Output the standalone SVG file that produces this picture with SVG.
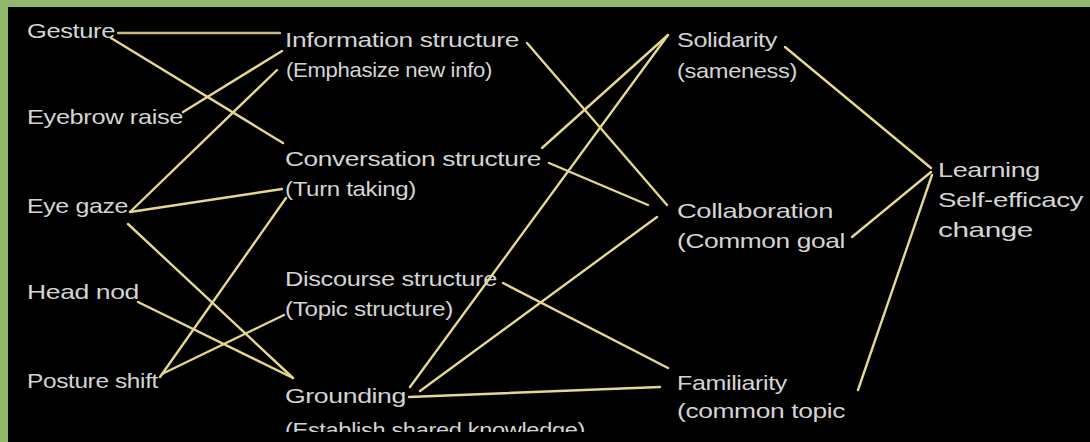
<svg xmlns="http://www.w3.org/2000/svg" width="1090" height="442" viewBox="0 0 1090 442">
<style>
.bg{fill:#000}
.fr{fill:#8fb86c}
text{font-family:"Liberation Sans",Arial,sans-serif;font-size:21px;fill:#d4d4d4;letter-spacing:-0.3px}
.c line{stroke:#e4d78e;stroke-width:2.4;stroke-linecap:round}
</style>
<defs>
<clipPath id="clipb"><rect x="0" y="0" width="1090" height="432"/></clipPath>
</defs>
<rect class="bg" x="0" y="0" width="1090" height="442"/>
<rect class="fr" x="0" y="0" width="1090" height="7"/>
<rect class="fr" x="0" y="0" width="8" height="442"/>
<g class="c" id="connectors">
<line x1="118" y1="33" x2="280" y2="33" style="stroke:#c4b984"/>
<line x1="111" y1="38" x2="283" y2="143"/>
<line x1="183" y1="112" x2="282" y2="51"/>
<line x1="130" y1="212" x2="277" y2="70"/>
<line x1="130" y1="212" x2="282" y2="189"/>
<line x1="128" y1="224" x2="293" y2="378"/>
<line x1="138" y1="302" x2="293" y2="378"/>
<line x1="160" y1="377" x2="286" y2="198"/>
<line x1="162" y1="374" x2="284" y2="315"/>
<line x1="527" y1="43" x2="667" y2="205"/>
<line x1="542" y1="148" x2="668" y2="35"/>
<line x1="410" y1="387" x2="668" y2="35"/>
<line x1="549" y1="163" x2="648" y2="205"/>
<line x1="420" y1="391" x2="657" y2="217"/>
<line x1="503" y1="283" x2="668" y2="368"/>
<line x1="409" y1="397" x2="660" y2="387"/>
<line x1="785" y1="47" x2="931" y2="168"/>
<line x1="852" y1="237" x2="931" y2="172"/>
<line x1="858" y1="390" x2="932" y2="175"/>
</g>
<g id="gesture"><text x="27" y="38" textLength="88" lengthAdjust="spacingAndGlyphs">Gesture</text></g>
<g id="eyebrow"><text x="27" y="124" textLength="156" lengthAdjust="spacingAndGlyphs">Eyebrow raise</text></g>
<g id="eyegaze"><text x="27" y="213" textLength="101" lengthAdjust="spacingAndGlyphs">Eye gaze</text></g>
<g id="headnod"><text x="27" y="299" textLength="112" lengthAdjust="spacingAndGlyphs">Head nod</text></g>
<g id="posture"><text x="27" y="388" textLength="131" lengthAdjust="spacingAndGlyphs">Posture shift</text></g>
<g id="information"><text x="285" y="47" textLength="234" lengthAdjust="spacingAndGlyphs">Information structure</text><text x="286" y="77" textLength="206" lengthAdjust="spacingAndGlyphs">(Emphasize new info)</text></g>
<g id="conversation"><text x="285" y="166" textLength="256" lengthAdjust="spacingAndGlyphs">Conversation structure</text><text x="285" y="196" textLength="131" lengthAdjust="spacingAndGlyphs">(Turn taking)</text></g>
<g id="discourse"><text x="285" y="286" textLength="212" lengthAdjust="spacingAndGlyphs">Discourse structure</text><text x="285" y="316" textLength="168" lengthAdjust="spacingAndGlyphs">(Topic structure)</text></g>
<g id="grounding"><text x="285" y="403" textLength="121" lengthAdjust="spacingAndGlyphs">Grounding</text><text x="285" y="437" clip-path="url(#clipb)" textLength="300" lengthAdjust="spacingAndGlyphs">(Establish shared knowledge)</text></g>
<g id="solidarity"><text x="677" y="47" textLength="100" lengthAdjust="spacingAndGlyphs">Solidarity</text><text x="677" y="78" textLength="120" lengthAdjust="spacingAndGlyphs">(sameness)</text></g>
<g id="collaboration"><text x="677" y="218" textLength="156" lengthAdjust="spacingAndGlyphs">Collaboration</text><text x="677" y="248" textLength="168" lengthAdjust="spacingAndGlyphs">(Common goal</text></g>
<g id="familiarity"><text x="677" y="390" textLength="110" lengthAdjust="spacingAndGlyphs">Familiarity</text><text x="677" y="418" textLength="168" lengthAdjust="spacingAndGlyphs">(common topic</text></g>
<g id="learning"><text x="938" y="177" textLength="102" lengthAdjust="spacingAndGlyphs">Learning</text><text x="938" y="207" textLength="145" lengthAdjust="spacingAndGlyphs">Self-efficacy</text><text x="938" y="237" textLength="95" lengthAdjust="spacingAndGlyphs">change</text></g>
</svg>
